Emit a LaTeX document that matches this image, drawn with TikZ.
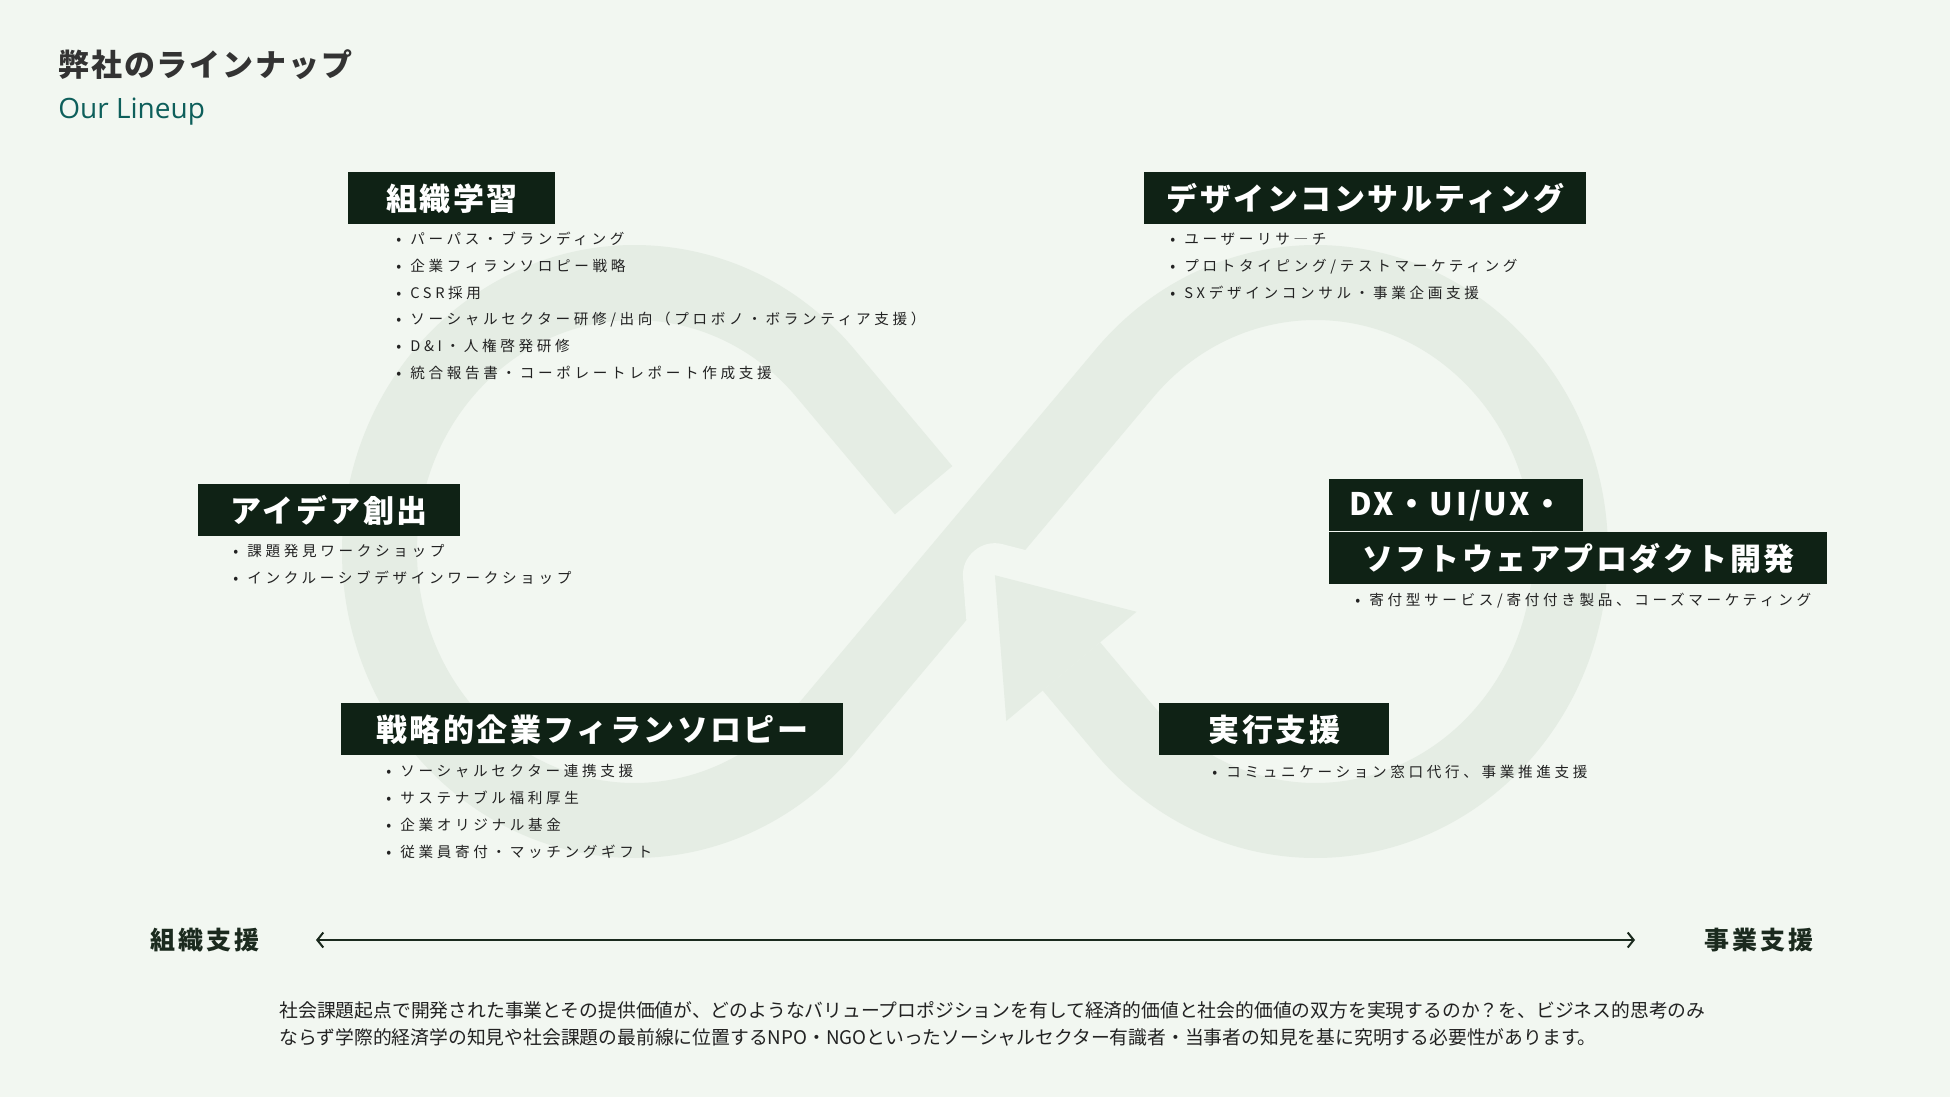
\documentclass[tikz,border=0pt]{standalone}
\usepackage{fontspec}
\setmainfont{Noto Sans CJK JP}
\newfontfamily\latinfont{Open Sans}
\usetikzlibrary{arrows.meta,calc}

\definecolor{pagebg}{HTML}{F2F7F1}
\definecolor{loopband}{HTML}{E5EDE4}
\definecolor{boxgreen}{HTML}{0F2215}
\definecolor{inktext}{HTML}{222222}
\definecolor{titlegray}{HTML}{333333}
\definecolor{subteal}{HTML}{0E5F5B}
\definecolor{axisink}{HTML}{1B2A1E}

\newdimen\px \px=0.5pt
\newcommand{\itm}{\makebox[14\px][l]{•}}

\begin{document}
\begin{tikzpicture}[x=0.5pt, y=-0.5pt,
    headbox/.style={anchor=north west, fill=boxgreen, text=white, inner sep=0pt, minimum height=52\px,
      font=\fontsize{15.5}{18}\bfseries\addfontfeature{LetterSpace=8}},
    itemlist/.style={anchor=base west, align=left, inner sep=0pt, text=inktext,
      font=\fontsize{7.3}{13.4}\selectfont\addfontfeature{LetterSpace=25}},
    axislabel/.style={anchor=base west, inner sep=0pt, text=axisink,
      font=\fontsize{12.5}{15}\bfseries\addfontfeature{LetterSpace=12}}]
  \fill[pagebg] (0,0) rectangle (1950,1097);

  % infinity loop
  \coordinate (X) at (975,551.5);
  \coordinate (cl) at (634.5,551.5);
  \coordinate (cr) at (1315.5,551.5);
  \draw[loopband, line width=75\px]
    ($(X)+(230:80)$) -- ($(cl)+(-41.5:255 and 269)$)
    arc[start angle=-41.5, end angle=-318.5, x radius=255, y radius=269]
    -- ($(cr)+(-138.5:255 and 269)$)
    arc[start angle=-138.5, end angle=138.5, x radius=255, y radius=269]
    -- ($(X)+(50:150)$);
  \coordinate (tip) at ($(X)+(50:31)$);
  \coordinate (base) at ($(X)+(50:150)$);
  \coordinate (hA) at ($(base)+(-40:85)$);
  \coordinate (hB) at ($(base)+(140:85)$);
  \draw[pagebg, line width=64\px, line join=round] (hA) -- (tip) -- (hB);
  \fill[loopband] (hA) -- (tip) -- (hB) -- cycle;

  % title
  \node[anchor=base west, inner sep=0pt, text=titlegray, font=\fontsize{15.5}{18}\bfseries\addfontfeature{LetterSpace=6}] (title) at (58,77) {弊社のラインナップ};
  \node[anchor=base west, inner sep=0pt, text=subteal, font=\latinfont\fontsize{14}{16}\selectfont] (subtitle) at (58,119) {Our Lineup};

  % heading boxes
  \node[headbox, minimum width=207\px] (h1) at (348,172) {組織学習};
  \node[headbox, minimum width=442\px] (h2) at (1144,172) {デザインコンサルティング};
  \node[headbox, minimum width=262\px] (h3) at (198,484) {アイデア創出};
  \node[headbox, minimum width=254\px] (h4a) at (1329,479) {DX・UI/UX・};
  \node[headbox, minimum width=498\px] (h4b) at (1329,532) {ソフトウェアプロダクト開発};
  \node[headbox, minimum width=502\px] (h5) at (341,703) {戦略的企業フィランソロピー};
  \node[headbox, minimum width=230\px] (h6) at (1159,703) {実行支援};

  % item lists (placed at the baseline of their last line)
  \node[itemlist] (l1) at (396,378.5) {\itm パーパス・ブランディング\\
    \itm 企業フィランソロピー戦略\\
    \itm CSR採用\\
    \itm ソーシャルセクター研修/出向（プロボノ・ボランティア支援）\\
    \itm D\&I・人権啓発研修\\
    \itm 統合報告書・コーポレートレポート作成支援};
  \node[itemlist] (l2) at (1170,298) {\itm ユーザーリサ―チ\\
    \itm プロトタイピング/テストマーケティング\\
    \itm SXデザインコンサル・事業企画支援};
  \node[itemlist] (l3) at (233,583) {\itm 課題発見ワークショップ\\
    \itm インクルーシブデザインワークショップ};
  \node[itemlist] (l4) at (1355,605) {\itm 寄付型サービス/寄付付き製品、コーズマーケティング};
  \node[itemlist] (l5) at (386,857) {\itm ソーシャルセクター連携支援\\
    \itm サステナブル福利厚生\\
    \itm 企業オリジナル基金\\
    \itm 従業員寄付・マッチングギフト};
  \node[itemlist] (l6) at (1212,777) {\itm コミュニケーション窓口代行、事業推進支援};

  % axis
  \node[axislabel] (orgside) at (150,949) {組織支援};
  \node[axislabel] (bizside) at (1704,949) {事業支援};
  \coordinate (axl) at (316,940);
  \coordinate (axr) at (1635,940);
  \draw[axisink, line width=2\px, {Straight Barb[length=3pt,width=7.5pt]}-{Straight Barb[length=3pt,width=7.5pt]}] (axl) -- (axr);

  % note
  \node[anchor=base west, align=left, inner sep=0pt, text=inktext, font=\fontsize{9.4}{13.5}\selectfont] (note) at (279,1044)
    {社会課題起点で開発された事業とその提供価値が、どのようなバリュープロポジションを有して経済的価値と社会的価値の双方を実現するのか？を、ビジネス的思考のみ\\
     ならず学際的経済学の知見や社会課題の最前線に位置するNPO・NGOといったソーシャルセクター有識者・当事者の知見を基に究明する必要性があります。};
\end{tikzpicture}
\end{document}
